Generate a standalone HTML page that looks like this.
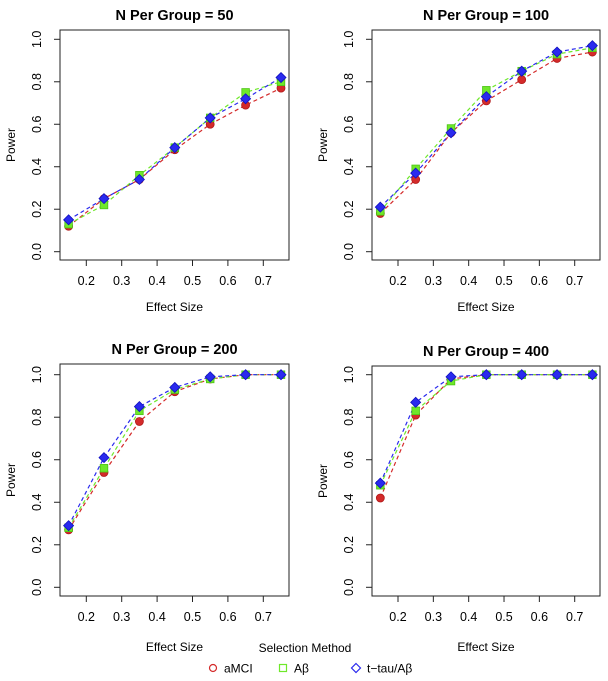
<!DOCTYPE html>
<html><head><meta charset="utf-8"><style>
html,body{margin:0;padding:0;background:#fff;}
svg{display:block;font-family:"Liberation Sans",sans-serif;}
</style></head><body>
<svg id="chart" width="608" height="681" viewBox="0 0 608 681"></svg>
<script>
const effectSizes=[0.15,0.25,0.35,0.45,0.55,0.65,0.75];
const xTicks=[0.2,0.3,0.4,0.5,0.6,0.7];
const yTicks=[0,0.2,0.4,0.6,0.8,1.0];
const panelTitles=["N Per Group = 50","N Per Group = 100","N Per Group = 200","N Per Group = 400"];
const amci50=[0.12,0.25,0.34,0.48,0.60,0.69,0.77];
const ab50=[0.13,0.22,0.36,0.49,0.63,0.75,0.80];
const ttau50=[0.15,0.25,0.34,0.49,0.63,0.72,0.82];
const amci100=[0.18,0.34,0.56,0.71,0.81,0.91,0.94];
const ab100=[0.19,0.39,0.58,0.76,0.85,0.93,0.96];
const ttau100=[0.21,0.37,0.56,0.73,0.85,0.94,0.97];
const amci200=[0.27,0.54,0.78,0.92,0.98,1.0,1.0];
const ab200=[0.28,0.56,0.83,0.93,0.98,1.0,1.0];
const ttau200=[0.29,0.61,0.85,0.94,0.99,1.0,1.0];
const amci400=[0.42,0.81,0.98,1.0,1.0,1.0,1.0];
const ab400=[0.48,0.83,0.97,1.0,1.0,1.0,1.0];
const ttau400=[0.49,0.87,0.99,1.0,1.0,1.0,1.0];
const seriesNames=["aMCI","Aβ","t−tau/Aβ"];

const NS="http://www.w3.org/2000/svg";
const svg=document.getElementById('chart');
function mk(tag,attrs,parent){const e=document.createElementNS(NS,tag);for(const k in attrs)e.setAttribute(k,attrs[k]);(parent||svg).appendChild(e);return e;}
const colors=["#d42a2a","#6fe82a","#2a2aee"];
const strokes=["#b01818","#4cc414","#1010c0"];
const panels=[
 {bx:60,bx2:289,by:30,by2:260,x2:86.3,x7:263.3,y0:251.7,y1:39.3,data:[amci50,ab50,ttau50],xl:311},
 {bx:372,bx2:600,by:30,by2:260,x2:398,x7:574.7,y0:251.7,y1:39.3,data:[amci100,ab100,ttau100],xl:311},
 {bx:60,bx2:289,by:364,by2:596,x2:86.3,x7:263.3,y0:587.3,y1:374.7,data:[amci200,ab200,ttau200],xl:651},
 {bx:372,bx2:600,by:366,by2:596,x2:398,x7:574.7,y0:587.3,y1:374.7,data:[amci400,ab400,ttau400],xl:651}
];
function marker(type,cx,cy,g,i){
  let m;
  if(type===0) m=mk('circle',{cx:cx,cy:cy,r:4,fill:colors[0],stroke:strokes[0],'stroke-width':0.8},g);
  else if(type===1) m=mk('rect',{x:cx-3.8,y:cy-3.8,width:7.6,height:7.6,fill:colors[1],stroke:strokes[1],'stroke-width':0.8},g);
  else m=mk('polygon',{points:`${cx},${cy-5} ${cx+5},${cy} ${cx},${cy+5} ${cx-5},${cy}`,fill:colors[2],stroke:strokes[2],'stroke-width':0.8},g);
  
  
}
panels.forEach((p,pi)=>{
  const g=mk('g',{});
  
  
  const sx=v=>p.x2+(v-0.2)*(p.x7-p.x2)/0.5;
  const sy=v=>p.y0+v*(p.y1-p.y0);
  const t=mk('text',{x:(p.bx+p.bx2)/2,y:p.by-10,'text-anchor':'middle','font-size':14.5,'font-weight':'bold'},g);
  t.textContent=panelTitles[pi];
  
  
  const b=mk('rect',{x:p.bx,y:p.by,width:p.bx2-p.bx,height:p.by2-p.by,fill:'none',stroke:'#222','stroke-width':1},g);
  
  
  xTicks.forEach(v=>{
    mk('line',{x1:sx(v),x2:sx(v),y1:p.by2,y2:p.by2+6,stroke:'#222'},g);
    const tl=mk('text',{x:sx(v),y:p.by2+25,'text-anchor':'middle','font-size':12.5},g);
    tl.textContent=v.toFixed(1);
    
    
  });
  yTicks.forEach(v=>{
    mk('line',{x1:p.bx-6,x2:p.bx,y1:sy(v),y2:sy(v),stroke:'#222'},g);
    const tl=mk('text',{x:0,y:0,'text-anchor':'middle','font-size':12.5,transform:`translate(${p.bx-19},${sy(v)}) rotate(-90)`},g);
    tl.textContent=v.toFixed(1);
    
    
  });
  const xt=mk('text',{x:(p.bx+p.bx2)/2,y:p.xl,'text-anchor':'middle','font-size':12},g);
  xt.textContent='Effect Size';
  
  
  const yt=mk('text',{x:0,y:0,'text-anchor':'middle','font-size':12,transform:`translate(${p.bx-45},${(p.by+p.by2)/2}) rotate(-90)`},g);
  yt.textContent='Power';
  
  
  p.data.forEach((arr,si)=>{
    const pts=arr.map((v,i)=>sx(effectSizes[i])+','+sy(v)).join(' ');
    const l=mk('polyline',{points:pts,fill:'none',stroke:colors[si],'stroke-width':1.2,'stroke-dasharray':'4,3'},g);
    
    
  });
  p.data.forEach((arr,si)=>arr.forEach((v,i)=>marker(si,sx(effectSizes[i]),sy(v),g,i)));
});
const lg=mk('g',{});


const lt=mk('text',{x:305,y:652,'text-anchor':'middle','font-size':12},lg);
lt.textContent='Selection Method';


const lx=[213,283,356];
seriesNames.forEach((n,i)=>{
  const e=mk('g',{},lg);
  
  
  const cy=668;
  if(i===0) mk('circle',{cx:lx[i],cy:cy,r:3.5,fill:'none',stroke:colors[0],'stroke-width':1.2},e);
  else if(i===1) mk('rect',{x:lx[i]-3.5,y:cy-3.5,width:7,height:7,fill:'none',stroke:colors[1],'stroke-width':1.2},e);
  else mk('polygon',{points:`${lx[i]},${cy-4.5} ${lx[i]+4.5},${cy} ${lx[i]},${cy+4.5} ${lx[i]-4.5},${cy}`,fill:'none',stroke:colors[2],'stroke-width':1.2},e);
  const t=mk('text',{x:lx[i]+11,y:cy+4.5,'font-size':12},e);
  t.textContent=n;
});
</script>
</body></html>
